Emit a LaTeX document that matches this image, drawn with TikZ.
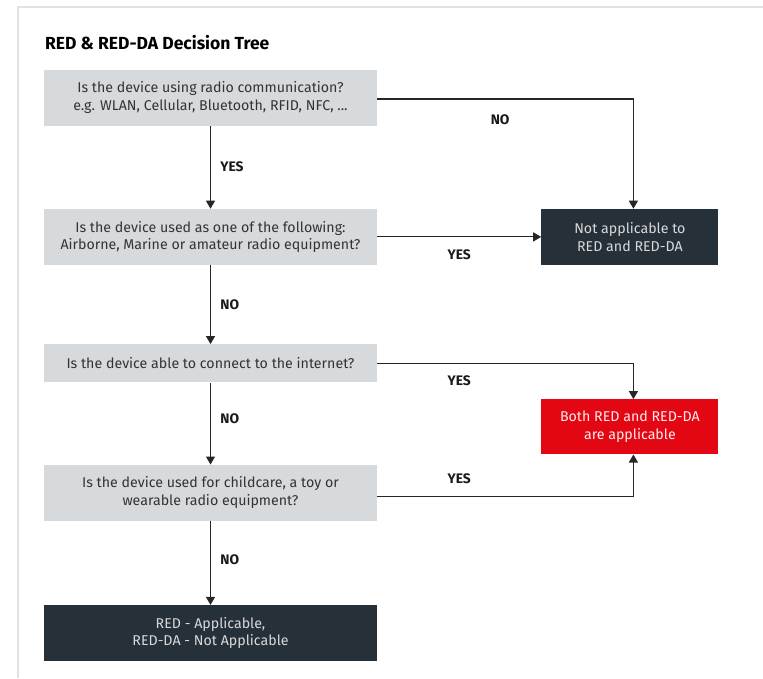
\documentclass[tikz,border=0pt]{standalone}
\usepackage{fontspec}
\setmainfont{Fira Sans}
\usepackage{xcolor}
\usetikzlibrary{arrows.meta,positioning}

\definecolor{qgray}{HTML}{D6DADD}
\definecolor{slate}{HTML}{263039}
\definecolor{redbox}{HTML}{E30613}
\definecolor{framegray}{HTML}{DFE2E6}

\begin{document}
\begin{tikzpicture}[
    x=1pt, y=-1pt,
    every node/.style={font=\fontsize{14.2}{17.5}\selectfont},
    qbox/.style={fill=qgray, text=black!80, minimum width=333pt, minimum height=56pt,
                 align=center, inner sep=0pt},
    endbox/.style={fill=slate, text=white!85!black, minimum width=177pt, minimum height=56pt,
                   align=center, inner sep=0pt},
    redend/.style={fill=redbox, text=white!92!red, minimum width=177pt, minimum height=55pt,
                   align=center, inner sep=0pt},
    arr/.style={-{Triangle[length=8pt,width=9pt]}, line width=1.1pt, black!85},
    lbl/.style={font=\fontsize{13.8}{15}\selectfont\bfseries, text=black!90}
]
\useasboundingbox (0,0) rectangle (763,678);

%% Frame and title
\draw[framegray, line width=1.5pt] (18,678) -- (18,7) -- (763,7);
\node[anchor=west, inner sep=1pt, font=\fontsize{17.5}{20}\selectfont\bfseries] (title) at (44,43)
  {RED \& RED-DA Decision Tree};

%% Questions
\node[qbox] (q1) at (210.5,97.5)
  {Is the device using radio communication?\\e.g. WLAN, Cellular, Bluetooth, RFID, NFC, ...};
\node[qbox, below=83pt of q1] (q2)
  {Is the device used as one of the following:\\Airborne, Marine or amateur radio equipment?};
\node[qbox, minimum height=38pt, below=79pt of q2] (q3)
  {Is the device able to connect to the internet?};
\node[qbox, below=82pt of q3] (q4)
  {Is the device used for childcare, a toy or\\wearable radio equipment?};

%% Outcomes
\node[endbox, minimum width=333pt, below=84pt of q4] (red)
  {RED - Applicable,\\RED-DA - Not Applicable};
\node[endbox, right=164pt of q2] (na)
  {Not applicable to\\RED and RED-DA};
\node[redend, below=134pt of na] (both)
  {Both RED and RED-DA\\are applicable};

%% Main column
\draw[arr] (q1) -- node[lbl, right=6pt] {YES} (q2);
\draw[arr] (q2) -- node[lbl, right=6pt] {NO} (q3);
\draw[arr] (q3) -- node[lbl, right=6pt, yshift=5pt] {NO} (q4);
\draw[arr] (q4) -- node[lbl, right=6pt, yshift=3pt] {NO} (red);

%% Branches to the right
\draw[arr] ([yshift=-1.5pt]q1.east) -| node[lbl, pos=0.24, below=12pt] {NO} ([xshift=3.5pt]na.north);
\draw[arr] (q2) -- node[lbl, below=9pt] {YES} (na);
\draw[arr] (q3.east) -| node[lbl, pos=0.16, below=9pt] {YES} ([xshift=3.5pt]both.north);
\draw[arr] ([yshift=-3.5pt]q4.east) -| node[lbl, pos=0.16, above=9pt] {YES} ([xshift=3.5pt]both.south);

\end{tikzpicture}
\end{document}
